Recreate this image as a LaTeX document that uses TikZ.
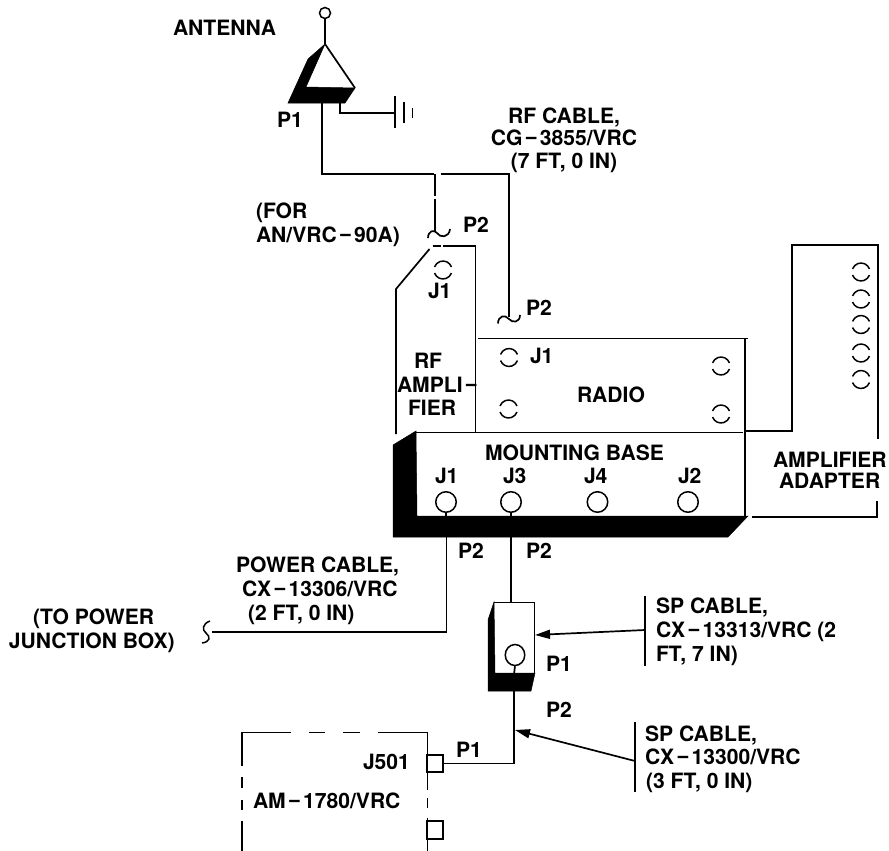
\documentclass[tikz,border=0pt]{standalone}
\usepackage{fontspec}
\setmainfont{TeX Gyre Heros}
\newfontfamily\minusfont{Liberation Sans}
\newcommand{\mn}{\kern2.5pt{\minusfont −}\kern2.5pt}
\usetikzlibrary{arrows.meta,shapes.geometric}
\tikzset{
  lbl/.style={anchor=base west,inner sep=0pt,outer sep=0pt,font=\fontsize{21.1}{24}\selectfont\bfseries},
  clbl/.style={lbl,anchor=base},
  wire/.style={line width=1.7pt,line join=miter},
  solid black/.style={fill=black,draw=black,line width=0.5pt},
  callout/.style={wire,-{Triangle[length=15pt,width=9pt]}},
  brk/.style={line width=1.5pt},
  dashbox/.style={line width=1.7pt},
}
\newcommand{\brokenring}[3]{%
  \draw[brk] (#1+#3*0.94,#2-#3*0.34) arc[start angle=20,end angle=160,radius=#3pt];
  \draw[brk] (#1-#3*0.94,#2+#3*0.34) arc[start angle=200,end angle=340,radius=#3pt];
}
\begin{document}
\begin{tikzpicture}[x=1pt,y=-1pt]
\useasboundingbox (0,0) rectangle (889,851);
% antenna
\coordinate (apex) at (325,44);
\node[circle,draw,line width=1.5pt,minimum size=11pt,inner sep=0pt] (tip) at (325,13) {};
\draw[wire] (tip) -- (apex);
\draw[solid black] (apex) -- (308,59) -- (288,103) -- (345,103) -- (355,88) -- (306,87) -- cycle;
\draw[wire] (apex) -- (355,88);
\coordinate (gndA) at (340,103);
\coordinate (gndB) at (395,113);
\draw[wire] (gndA) |- (gndB);
\draw[wire] (395,96) -- (395,128);
\draw[wire] (404,102) -- (404,123);
\draw[wire] (412.5,108) -- (412.5,118);
% RF cable
\coordinate (antOut) at (322,103);
\coordinate (cabA) at (434,174);
\coordinate (cabB) at (441,174);
\coordinate (cabC) at (509,174);
\coordinate (cabD) at (509,317);
\draw[wire] (antOut) |- (cabA);
\draw[wire] (cabB) -- (cabC) -- (cabD);
\draw[wire] (435,174) -- (435,196);
\draw[wire] (435,198.5) -- (435,231);
\draw[wire] (428,238) .. controls (428,231) and (434,229) .. (437,233) .. controls (440,238) and (449,238) .. (450,229);
\draw[wire] (498,323.5) .. controls (498,316) and (505,314) .. (509,319) .. controls (512,323) and (520,323) .. (520,315);
% RF amplifier
\draw[wire] (396,434) -- (396,289) -- (429.5,249);
\draw[wire] (432.6,246) -- (440.6,246);
\draw[wire] (443.3,246) -- (475.5,246) -- (475.5,433);
\brokenring{443}{270}{9}
% Radio
\draw[wire] (478,338.5) -- (748,338.5);
\draw[wire] (745,338.5) -- (745,517);
\brokenring{509}{357.5}{9}
\brokenring{508.5}{409}{9}
\brokenring{721}{366}{9}
\brokenring{721}{414}{9}
% Mounting base
\draw[wire] (416,432.5) -- (743,432.5);
\draw[solid black] (393,445) -- (416,431) -- (417,516) -- (748,516) -- (728,537) -- (393,537) -- cycle;
\foreach \n/\x in {a/446,b/511,c/597.5,d/688}
  \node[circle,draw,line width=1.5pt,minimum size=20.5pt,inner sep=0pt] (base\n) at (\x,502) {};
\draw[wire] (baseb.south) -- (511,517);
\draw[wire] (basea.south) -- (446,517);
% Amplifier adapter
\draw[wire] (745,431) -- (792,431) -- (792,245) -- (878,245) -- (878,439);
\draw[wire] (877,501) -- (877,517) -- (752,517);
\foreach \y in {272,299,324.5,353,379.5}{\brokenring{861}{\y}{9}}
% Power cable
\coordinate (pwrEnd) at (212,632);
\draw[wire] (446.5,537) |- (pwrEnd);
\draw[line width=1.5pt] (210,621) .. controls (202,624) and (202,630) .. (206,633) .. controls (211,637) and (210,642) .. (202,643);
% SP connector
\coordinate (spTop) at (511,602);
\draw[wire] (511,537) -- (spTop);
\draw[solid black] (494,602) -- (488,620) -- (488,691) -- (531,691) -- (535,673) -- (495,673) -- cycle;
\draw[wire] (494,602.5) -- (534.5,602.5) -- (534.5,673);
\node[ellipse,draw,line width=1.5pt,minimum width=19.5pt,minimum height=21pt,inner sep=0pt] (spRing) at (515,655) {};
\draw[wire] (spRing.south) -- (514,674);
% Lower cable and AM-1780
\node[draw,line width=1.6pt,minimum width=15.5pt,minimum height=17pt,inner sep=0pt] (jfive) at (435,763.5) {};
\node[draw,line width=1.6pt,minimum width=15.5pt,minimum height=18pt,inner sep=0pt] (jsix) at (435,830) {};
\draw[wire] (514,691) |- (jfive.east);
\draw[dashbox] (242,766) -- (242,732.5) -- (290.5,732.5);
\draw[dashbox] (309,732.5) -- (325,732.5);
\draw[dashbox] (343,732.5) -- (360,732.5);
\draw[dashbox] (378,732.5) -- (427.5,732.5) -- (427.5,755);
\draw[dashbox] (242,777) -- (242,788);
\draw[dashbox] (242,800) -- (242,810);
\draw[dashbox] (242,821) -- (242,851);
\draw[dashbox] (427.5,773) -- (427.5,790);
\draw[dashbox] (427.5,798) -- (427.5,808);
\draw[dashbox] (427.5,818) -- (427.5,821);
\draw[dashbox] (427.5,840) -- (427.5,851);
% callouts
\coordinate (barA) at (645,630);
\coordinate (barB) at (635,761);
\coordinate (arrA) at (535,635);
\coordinate (arrB) at (515,730);
\draw[wire] (645,596) -- (645,666);
\draw[wire] (635,722) -- (635,792);
\draw[callout] (barA) -- (arrA);
\draw[callout] (barB) -- (arrB);
% labels
\node[lbl] (tAnt) at (173,36) {ANTENNA};
\node[lbl] (tP1a) at (277,127) {P1};
\node[clbl] (tRf1) at (564,123) {RF CABLE,};
\node[clbl] (tRf2) at (564,145) {CG\mn3855/VRC};
\node[clbl] (tRf3) at (564,168) {(7 FT, 0 IN)};
\node[lbl] (tFor1) at (256,218) {(FOR};
\node[lbl] (tFor2) at (256,242) {AN/VRC\mn90A)};
\node[lbl] (tP2a) at (463,232) {P2};
\node[lbl] (tJ1a) at (428,298) {J1};
\node[lbl] (tP2b) at (526,315) {P2};
\node[lbl] (tJ1b) at (530,363) {J1};
\node[lbl] (tAmp1) at (414,368) {RF};
\node[lbl] (tAmp2) at (397,392) {AMPLI\mn};
\node[lbl] (tAmp3) at (408,415) {FIER};
\node[lbl] (tRadio) at (577,402) {RADIO};
\node[lbl] (tBase) at (485,460) {MOUNTING BASE};
\node[lbl] (tJ1c) at (435,483) {J1};
\node[lbl] (tJ3) at (503,483) {J3};
\node[lbl] (tJ4) at (584,483) {J4};
\node[lbl] (tJ2) at (678,483) {J2};
\node[lbl] (tAd1) at (773,467) {AMPLIFIER};
\node[lbl] (tAd2) at (779,488) {ADAPTER};
\node[lbl] (tP2c) at (458,558) {P2};
\node[lbl] (tP2d) at (526,558) {P2};
\node[lbl] (tPw1) at (236,572) {POWER CABLE,};
\node[lbl] (tPw2) at (242,596) {CX\mn13306/VRC};
\node[lbl] (tPw3) at (248,620) {(2 FT, 0 IN)};
\node[lbl] (tTo1) at (33,624) {(TO POWER};
\node[lbl] (tTo2) at (9,648) {JUNCTION BOX)};
\node[lbl] (tP1b) at (546,671) {P1};
\node[lbl] (tP2e) at (546,717) {P2};
\node[lbl] (tSa1) at (656,613) {SP CABLE,};
\node[lbl] (tSa2) at (656,637) {CX\mn13313/VRC (2};
\node[lbl] (tSa3) at (656,661) {FT, 7 IN)};
\node[lbl] (tSb1) at (645,741) {SP CABLE,};
\node[lbl] (tSb2) at (645,764) {CX\mn13300/VRC};
\node[lbl] (tSb3) at (646,788) {(3 FT, 0 IN)};
\node[lbl] (tP1c) at (456,757) {P1};
\node[lbl] (tJ5) at (363,769) {J501};
\node[lbl] (tAm) at (253,808) {AM\mn1780/VRC};
\end{tikzpicture}
\end{document}
